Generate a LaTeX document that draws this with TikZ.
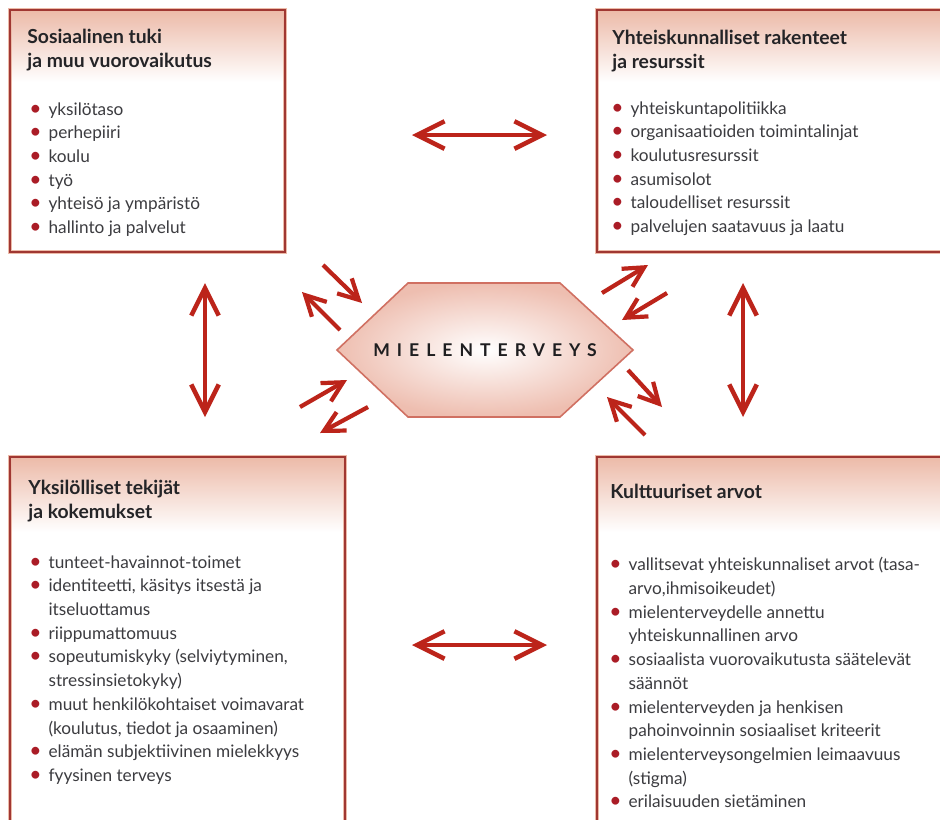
\documentclass[tikz,border=0pt]{standalone}
\usepackage{fontspec}
\setmainfont{Lato}
\usepackage{xcolor}
\usetikzlibrary{arrows.meta}

\definecolor{boxred}{RGB}{160,55,50}
\definecolor{hdrpink}{RGB}{236,186,168}
\definecolor{arrred}{RGB}{188,36,26}
\definecolor{bulred}{RGB}{170,28,38}
\definecolor{txtgray}{RGB}{60,60,64}
\definecolor{hexline}{RGB}{208,112,98}
\definecolor{hexfill}{RGB}{238,190,176}

\newcommand{\bulglyph}{\fontsize{12}{12}\selectfont\textbullet}
\newcommand{\bul}{\textcolor{bulred}{\bulglyph}\hspace{4pt}}
\newcommand{\ind}{\hphantom{\bulglyph}\hspace{4pt}}

\tikzset{
    frame/.style={draw=boxred,line width=1.2pt},
    glow/.style={draw=hdrpink,line width=2.6pt},
    hdrfill/.style={top color=hdrpink,bottom color=white},
    hd/.style={anchor=north west,inner sep=0pt,align=left,text=txtgray!60!black,
        font=\fontsize{11}{13.6}\selectfont\bfseries},
    lst/.style={anchor=north west,inner sep=0pt,align=left,text=txtgray,
        font=\fontsize{9.8}{13.5}\selectfont},
    dbl/.style={arrred,line width=2.6pt,
        {Straight Barb[length=0.55cm,width=0.55cm]}-{Straight Barb[length=0.55cm,width=0.55cm]}},
    sgl/.style={arrred,line width=2.4pt,-{Straight Barb[length=0.4cm,width=0.42cm]}},
    hexa/.style={draw=hexline,line width=0.9pt,inner color=white,outer color=hexfill},
    mid/.style={text=txtgray!50!black,font=\fontsize{10}{11}\selectfont\bfseries\addfontfeature{LetterSpace=40}}
}

\begin{document}
\begin{tikzpicture}[x=0.02cm,y=-0.02cm]
        \clip (0,0) rectangle (940,819);
        \fill[white] (0,0) rectangle (940,819);

        \fill[hdrfill] (10,10) rectangle (285,82);
        \draw[glow] (10,10) rectangle (285,252);
        \draw[frame] (10,10) rectangle (285,252);
        \fill[hdrfill] (597,10) rectangle (950,82);
        \draw[glow] (597,10) rectangle (950,252);
        \draw[frame] (597,10) rectangle (950,252);
        \fill[hdrfill] (10,457) rectangle (345,532);
        \draw[glow] (10,457) rectangle (345,830);
        \draw[frame] (10,457) rectangle (345,830);
        \fill[hdrfill] (597,457) rectangle (950,532);
        \draw[glow] (597,457) rectangle (950,830);
        \draw[frame] (597,457) rectangle (950,830);

        \node[hd] (hSos) at (27,29) {Sosiaalinen tuki\\ja muu vuorovaikutus};
        \node[lst] (lSos) at (29,102) {\bul yksilötaso\\\bul perhepiiri\\\bul koulu\\\bul työ\\
            \bul yhteisö ja ympäristö\\\bul hallinto ja palvelut};

        \node[hd] (hYht) at (612,30) {Yhteiskunnalliset rakenteet\\ja resurssit};
        \node[lst] (lYht) at (611,101) {\bul yhteiskuntapolitiikka\\\bul organisaatioiden toimintalinjat\\
            \bul koulutusresurssit\\\bul asumisolot\\\bul taloudelliset resurssit\\
            \bul palvelujen saatavuus ja laatu};

        \node[hd] (hYks) at (28,480) {Yksilölliset tekijät\\ja kokemukset};
        \node[lst] (lYks) at (29,555) {\bul tunteet-havainnot-toimet\\
            \bul identiteetti, käsitys itsestä ja\\\ind itseluottamus\\\bul riippumattomuus\\
            \bul sopeutumiskyky (selviytyminen,\\\ind stressinsietokyky)\\
            \bul muut henkilökohtaiset voimavarat\\\ind (koulutus, tiedot ja osaaminen)\\
            \bul elämän subjektiivinen mielekkyys\\\bul fyysinen terveys};

        \node[hd] (hKul) at (610,484) {Kulttuuriset arvot};
        \node[lst] (lKul) at (609,557) {\bul vallitsevat yhteiskunnaliset arvot (tasa-\\
            \ind arvo,ihmisoikeudet)\\\bul mielenterveydelle annettu\\\ind yhteiskunnallinen arvo\\
            \bul sosiaalista vuorovaikutusta säätelevät\\\ind säännöt\\
            \bul mielenterveyden ja henkisen\\\ind pahoinvoinnin sosiaaliset kriteerit\\
            \bul mielenterveysongelmien leimaavuus\\\ind (stigma)\\\bul erilaisuuden sietäminen};

        \draw[hexa] (337,350) -- (408,283) -- (560,283) -- (633,350) -- (560,417) -- (408,417) -- cycle;
        \node[mid] (mh) at (485,350) {MIELENTERVEYS};

        \coordinate (topL) at (412,135);
        \coordinate (topR) at (547,135);
        \coordinate (botL) at (412,645);
        \coordinate (botR) at (547,645);
        \coordinate (leftT) at (205,283);
        \coordinate (leftB) at (205,417);
        \coordinate (rightT) at (743,283);
        \coordinate (rightB) at (743,417);
        \draw[dbl] (topL) -- (topR);
        \draw[dbl] (botL) -- (botR);
        \draw[dbl] (leftT) -- (leftB);
        \draw[dbl] (rightT) -- (rightB);

        \coordinate (tlA) at (323,265);
        \coordinate (tlB) at (362,303);
        \coordinate (tlC) at (340,330);
        \coordinate (tlD) at (302,292);
        \coordinate (trA) at (602,293);
        \coordinate (trB) at (648,265);
        \coordinate (trC) at (667,293);
        \coordinate (trD) at (622,320);
        \coordinate (blA) at (300,407);
        \coordinate (blB) at (347,380);
        \coordinate (blC) at (368,407);
        \coordinate (blD) at (320,433);
        \coordinate (brA) at (628,370);
        \coordinate (brB) at (662,407);
        \coordinate (brC) at (645,435);
        \coordinate (brD) at (607,397);
        \draw[sgl] (tlA) -- (tlB);
        \draw[sgl] (tlC) -- (tlD);
        \draw[sgl] (trA) -- (trB);
        \draw[sgl] (trC) -- (trD);
        \draw[sgl] (blA) -- (blB);
        \draw[sgl] (blC) -- (blD);
        \draw[sgl] (brA) -- (brB);
        \draw[sgl] (brC) -- (brD);
\end{tikzpicture}
\end{document}
